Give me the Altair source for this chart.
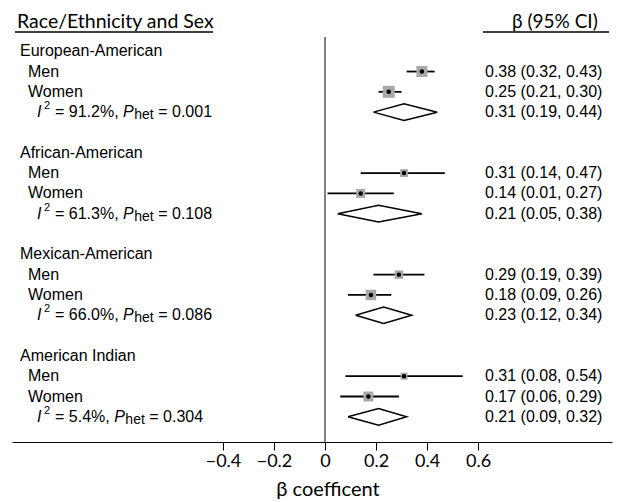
import altair as alt
import pandas as pd

# ---- data ----
groups = ["European-American", "African-American", "Mexican-American", "American Indian"]
men_est = [0.38, 0.31, 0.29, 0.31]
men_lo = [0.32, 0.14, 0.19, 0.08]
men_hi = [0.43, 0.47, 0.39, 0.54]
women_est = [0.25, 0.14, 0.18, 0.17]
women_lo = [0.21, 0.01, 0.09, 0.06]
women_hi = [0.30, 0.27, 0.26, 0.29]
pooled_est = [0.31, 0.21, 0.23, 0.21]
pooled_lo = [0.19, 0.05, 0.12, 0.09]
pooled_hi = [0.44, 0.38, 0.34, 0.32]
i2_vals = ["91.2%", "61.3%", "66.0%", "5.4%"]
phet_vals = ["0.001", "0.108", "0.086", "0.304"]
men_weight = [11, 8, 8.5, 7]
women_weight = [12, 9, 10.5, 10]
x_ticks = [-0.4, -0.2, 0, 0.2, 0.4, 0.6]

# ---- layout constants ----
W, H = 600, 405
PX_PER_UNIT = 255.0
ZERO_PX = 313.0
DMIN = -ZERO_PX / PX_PER_UNIT
DMAX = DMIN + W / PX_PER_UNIT
YDOM = [-0.7, 19.24]
FONT = "Liberation Sans"
HFONT = "Lato"
DIAMOND_HALF = 0.41

ARIAL = {" ": .278, ".": .278, ",": .278, "%": .889, "=": .584, "P": .667,
         "h": .556, "e": .556, "t": .278, "I": .278}
for d in "0123456789":
    ARIAL[d] = .556


def tw(s, size):
    return sum(ARIAL.get(c, .556) for c in s) * size


def px_to_x(px):
    return DMIN + px / PX_PER_UNIT


# ---- tables ----
est_rows, diamond_rows, label_rows, right_rows, i2_rows = [], [], [], [], []
for g, name in enumerate(groups):
    base = 5 * g
    label_rows.append({"label": name, "n": base, "kind": "group"})
    for k, (sex, e, lo, hi, w) in enumerate([
            ("Men", men_est[g], men_lo[g], men_hi[g], men_weight[g]),
            ("Women", women_est[g], women_lo[g], women_hi[g], women_weight[g])]):
        n = base + 1 + k
        label_rows.append({"label": sex, "n": n, "kind": "sex"})
        est_rows.append({"n": n, "est": e, "lo": lo, "hi": hi, "sz": w * w})
        right_rows.append({"n": n, "txt": f"{e:.2f} ({lo:.2f}, {hi:.2f})"})
    n = base + 3
    pe, pl, ph = pooled_est[g], pooled_lo[g], pooled_hi[g]
    right_rows.append({"n": n, "txt": f"{pe:.2f} ({pl:.2f}, {ph:.2f})"})
    pts = [(pl, n), (pe, n - DIAMOND_HALF), (ph, n), (pe, n + DIAMOND_HALF), (pl, n)]
    for o, (xx, yy) in enumerate(pts):
        diamond_rows.append({"grp": name, "x": xx, "n": yy, "o": o})
    seg3 = f"= {i2_vals[g]},"
    p_px = 43 + tw(seg3 + " ", 16)
    het_px = p_px + 11.2
    rest_px = het_px + tw("het", 14) + 4.5
    i2_rows.append({"n": n, "seg3": seg3, "p_x": px_to_x(p_px),
                    "het_x": px_to_x(het_px), "rest_x": px_to_x(rest_px),
                    "rest": f"= {phet_vals[g]}"})

est_df = pd.DataFrame(est_rows)
dia_df = pd.DataFrame(diamond_rows)
lab_df = pd.DataFrame(label_rows)
right_df = pd.DataFrame(right_rows)
i2_df = pd.DataFrame(i2_rows)
one = pd.DataFrame({"a": [0]})

xscale = alt.Scale(domain=[DMIN, DMAX], nice=False, zero=False)
yscale = alt.Scale(domain=YDOM, reverse=True, nice=False, zero=False)
xaxis = alt.Axis(values=x_ticks, format=".1~f", grid=False,
                 labelFont=HFONT, labelFontSize=18, labelColor="black",
                 labelPadding=2, tickColor="black", tickSize=8, tickWidth=1,
                 domainColor="black", domainWidth=1,
                 title="β coefficent", titleFont=HFONT, titleFontSize=20,
                 titleFontWeight="normal", titleColor="black",
                 titleX=315.5, titleY=53, titleBaseline="alphabetic",
                 titleAlign="center")


def X(f):
    return alt.X(f, type="quantitative", scale=xscale, axis=xaxis)


def Y(f):
    return alt.Y(f, type="quantitative", scale=yscale, axis=None)


zero_line = alt.Chart(one).mark_rule(color="black", strokeWidth=1).encode(
    x=X("z0"), y=alt.value(0), y2=alt.value(H)).transform_calculate(z0="0")

ci = alt.Chart(est_df).mark_rule(color="black", strokeWidth=1.8).encode(
    x=X("lo"), x2="hi", y=Y("n"))

squares = alt.Chart(est_df).mark_square(color="#a8a8a8", opacity=1).encode(
    x=X("est"), y=Y("n"), size=alt.Size("sz:Q", scale=None, legend=None))

dots = alt.Chart(est_df).mark_circle(color="black", size=20, opacity=1).encode(
    x=X("est"), y=Y("n"))

diamonds = alt.Chart(dia_df).mark_line(color="black", strokeWidth=1.5,
                                       strokeJoin="miter").encode(
    x=X("x"), y=Y("n"), detail="grp:N", order="o:Q")

txt = dict(font=FONT, fontSize=16, color="black", align="left", baseline="middle")

grp_labels = alt.Chart(lab_df).transform_filter("datum.kind == 'group'").mark_text(**txt).encode(
    x=alt.value(8), y=Y("n"), text="label:N")
sex_labels = alt.Chart(lab_df).transform_filter("datum.kind == 'sex'").mark_text(**txt).encode(
    x=alt.value(16), y=Y("n"), text="label:N")
right_labels = alt.Chart(right_df).mark_text(**txt).encode(
    x=alt.value(473), y=Y("n"), text="txt:N")

i_seg = alt.Chart(i2_df).mark_text(text="I", fontStyle="italic", **txt).encode(
    x=alt.value(25), y=Y("n"))
sup_seg = alt.Chart(i2_df).mark_text(text="2", dy=-6, font=FONT, fontSize=11,
                                     color="black", align="left", baseline="middle").encode(
    x=alt.value(32), y=Y("n"))
eq_seg = alt.Chart(i2_df).mark_text(**txt).encode(
    x=alt.value(43), y=Y("n"), text="seg3:N")
p_seg = alt.Chart(i2_df).mark_text(text="P", fontStyle="italic", **txt).encode(
    x=X("p_x"), y=Y("n"))
het_seg = alt.Chart(i2_df).mark_text(text="het", dy=3, font=FONT, fontSize=14,
                                     color="black", align="left", baseline="middle").encode(
    x=X("het_x"), y=Y("n"))
rest_seg = alt.Chart(i2_df).mark_text(**txt).encode(
    x=X("rest_x"), y=Y("n"), text="rest:N")

hdr_left = alt.Chart(one).mark_text(text="Race/Ethnicity and Sex", font=HFONT, fontSize=19.5,
                                    color="black", align="left", baseline="alphabetic").encode(
    x=alt.value(5), y=alt.value(-9))
hdr_right = alt.Chart(one).mark_text(text="β (95% CI)", font=HFONT, fontSize=19,
                                     color="black", align="left", baseline="alphabetic").encode(
    x=alt.value(500), y=alt.value(-9))
ul_left = alt.Chart(one).mark_rule(color="black", strokeWidth=1.5).encode(
    x=alt.value(3), x2=alt.value(201), y=alt.value(-5))
ul_right = alt.Chart(one).mark_rule(color="black", strokeWidth=1.5).encode(
    x=alt.value(471), x2=alt.value(597), y=alt.value(-5))

chart = alt.layer(
    zero_line, ci, squares, dots, diamonds,
    grp_labels, sex_labels, right_labels,
    i_seg, sup_seg, eq_seg, p_seg, het_seg, rest_seg,
    hdr_left, hdr_right, ul_left, ul_right,
).properties(
    width=W, height=H,
    autosize=alt.AutoSizeParams(type="none"),
    padding={"left": 4, "top": 29, "right": 1, "bottom": 57},
    background="white",
).configure_view(stroke=None, strokeWidth=0)

chart.save("out.html", embed_options={"renderer": "svg", "actions": False})
